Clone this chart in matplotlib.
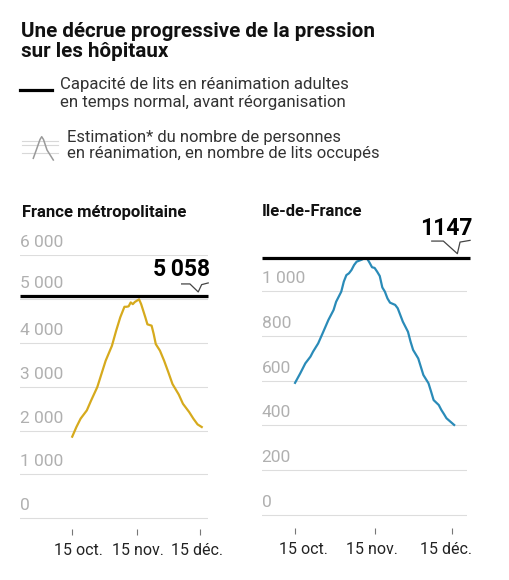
import numpy as np
import matplotlib
matplotlib.use("Agg")
import matplotlib.pyplot as plt
import matplotlib.dates as mdates
from matplotlib.lines import Line2D
from matplotlib.transforms import Affine2D

plt.rcParams['font.family'] = ['Roboto', 'DejaVu Sans']

# --- data ---
france_dates = ["2020-10-15", "2020-10-17", "2020-10-19", "2020-10-22", "2020-10-24",
                "2020-10-27", "2020-10-29", "2020-10-31", "2020-11-03", "2020-11-05",
                "2020-11-07", "2020-11-09", "2020-11-10", "2020-11-11", "2020-11-12",
                "2020-11-13", "2020-11-14", "2020-11-16", "2020-11-17", "2020-11-18",
                "2020-11-19", "2020-11-20", "2020-11-22", "2020-11-23", "2020-11-24",
                "2020-11-26", "2020-11-28", "2020-11-30", "2020-12-02", "2020-12-05",
                "2020-12-07", "2020-12-10", "2020-12-12", "2020-12-14", "2020-12-16"]
france_values = [1860, 2080, 2270, 2460, 2680, 2990, 3290, 3590, 3930, 4270,
                 4580, 4820, 4820, 4830, 4920, 4880, 4930, 4990, 4880, 4730,
                 4580, 4420, 4390, 4200, 3970, 3820, 3590, 3330, 3060, 2820,
                 2610, 2420, 2270, 2140, 2080]

idf_dates = ["2020-10-15", "2020-10-17", "2020-10-19", "2020-10-21", "2020-10-22",
             "2020-10-24", "2020-10-26", "2020-10-28", "2020-10-30", "2020-10-31",
             "2020-11-02", "2020-11-03", "2020-11-04", "2020-11-05", "2020-11-06",
             "2020-11-07", "2020-11-08", "2020-11-10", "2020-11-11", "2020-11-12",
             "2020-11-13", "2020-11-14", "2020-11-15", "2020-11-16", "2020-11-17",
             "2020-11-18", "2020-11-19", "2020-11-20", "2020-11-21", "2020-11-23",
             "2020-11-24", "2020-11-25", "2020-11-26", "2020-11-28", "2020-11-29",
             "2020-11-30", "2020-12-02", "2020-12-03", "2020-12-04", "2020-12-06",
             "2020-12-07", "2020-12-08", "2020-12-10", "2020-12-11", "2020-12-12",
             "2020-12-13", "2020-12-15", "2020-12-16"]
idf_values = [590, 632, 677, 707, 729, 766, 818, 871, 915, 952,
              997, 1042, 1071, 1079, 1094, 1116, 1131, 1140, 1146, 1146,
              1127, 1106, 1103, 1086, 1067, 1016, 997, 967, 948, 938,
              923, 893, 863, 818, 774, 737, 699, 662, 625, 588,
              551, 513, 491, 469, 451, 432, 412, 402]

france_capacity = 5058
idf_capacity = 1147
france_capacity_label = "5\u2009058"
idf_capacity_label = "1147"

france_yticks = [0, 1000, 2000, 3000, 4000, 5000, 6000]
france_ylabels = ["0", "1 000", "2 000", "3 000", "4 000", "5 000", "6 000"]
idf_yticks = [0, 200, 400, 600, 800, 1000]
idf_ylabels = ["0", "200", "400", "600", "800", "1 000"]

xtick_dates = ["2020-10-15", "2020-11-15", "2020-12-15"]
xtick_labels = ["15 oct.", "15 nov.", "15 déc."]

W, H = 510, 580
fig = plt.figure(figsize=(W / 100, H / 100), dpi=100)


def fx(px):
    return px / W


def fy(py):
    return 1 - py / H


def to_num(ds):
    return mdates.date2num(np.array(ds, dtype="datetime64[D]"))


def panel(rect, dates, values, color, cap, cap_label, yticks, ylabels, ylim,
          xlim, tip_x, pointer_shape, cap_xmax, label_shift, num_dy):
    ax = fig.add_axes(rect)
    ax.set_xlim(to_num(xlim))
    ax.set_ylim(ylim)
    for s in ax.spines.values():
        s.set_visible(False)
    ax.set_yticks([])
    step = yticks[1] - yticks[0]
    for v, lab in zip(yticks, ylabels):
        ax.axhline(v, color="#dddddd", lw=0.8, zorder=1)
        yv = v
        if 0 <= cap - v < step / 2:
            yv = cap  # label moved above the capacity line
        ax.annotate(lab, (0, yv), xycoords=ax.get_yaxis_transform(),
                    xytext=(0, 5), textcoords="offset pixels",
                    ha="left", va="bottom", fontsize=12.5, color="#b0b0b0")
    ax.plot(to_num(dates), values, color=color, lw=1.6, zorder=3,
            solid_joinstyle="round")
    ax.plot([0, cap_xmax], [cap, cap], transform=ax.get_yaxis_transform(),
            color="black", lw=2.3, zorder=4, clip_on=False, solid_capstyle="butt")
    # small callout pointing to the capacity line, shape given in pixels
    w_px = rect[2] * W
    h_px = rect[3] * H
    per_px = (ylim[1] - ylim[0]) / h_px
    px_, py_ = pointer_shape
    cx = [tip_x + v / w_px for v in px_]
    cy = [cap + (4.4 + v) * per_px for v in py_]
    ax.plot(cx, cy, transform=ax.get_yaxis_transform(), color="#444444",
            lw=0.9, clip_on=False, zorder=5)
    ax.annotate(cap_label, (cap_xmax, cap), xycoords=ax.get_yaxis_transform(),
                xytext=(2, num_dy), textcoords="offset pixels", ha="right",
                va="baseline", fontsize=16.5, fontweight="bold", color="black")
    ax.set_xticks(to_num(xtick_dates))
    ax.set_xticklabels(xtick_labels, fontsize=11.5, color="#222222")
    ax.tick_params(axis="x", length=4.3, width=0.8, color="#777777", pad=6)
    for lab, dx in zip(ax.get_xticklabels(), label_shift):
        lab.set_transform(lab.get_transform() + Affine2D().translate(dx, 0))
    return ax


# France métropolitaine
panel([fx(20), fy(529), fx(188), (529 - 255) / H],
      france_dates, france_values, "#d6aa1d", france_capacity, france_capacity_label,
      france_yticks, france_ylabels, (-244, 6000), ["2020-09-20", "2020-12-19"],
      0.948, ([-16.6, -8.3, 0, 3.4, 10], [8, 8, 0, 7.3, 9]), 1.0, [6, 1, -3], 20)

# Ile-de-France
panel([fx(261.7), fy(528), fx(205.3), (528 - 246.2) / H],
      idf_dates, idf_values, "#2a8bb8", idf_capacity, idf_capacity_label,
      idf_yticks, idf_ylabels, (-58, 1200), ["2020-10-02", "2020-12-21"],
      0.953, ([-25.6, -14, 0, 2.7, 12.7], [12.6, 12.6, 0, 11.6, 13.3]), 1.015, [8, -3, -6], 23)

# titles
fig.text(fx(21), fy(22), "Une décrue progressive de la pression\nsur les hôpitaux",
         ha="left", va="top", fontsize=14.9, fontweight="bold", color="#111111",
         linespacing=1.05)
fig.text(fx(21.7), fy(212.7), "France métropolitaine", ha="left", va="center",
         fontsize=12, fontweight="bold", color="#111111")
fig.text(fx(261.7), fy(211.7), "Ile-de-France", ha="left", va="center",
         fontsize=12, fontweight="bold", color="#111111")

# legend
fig.add_artist(Line2D([fx(20), fx(51.7)], [fy(90), fy(90)], color="black", lw=2.3))
fig.text(fx(60), fy(93.3), "Capacité de lits en réanimation adultes\nen temps normal, avant réorganisation",
         ha="left", va="center", fontsize=12.1, color="#333333", linespacing=1.2)
for gy in [140.7, 145, 153.3]:
    fig.add_artist(Line2D([fx(21.7), fx(58.3)], [fy(gy), fy(gy)], color="#d8d8d8", lw=0.8))
icon_x = [33.3, 37, 40, 41.7, 43.5, 47, 53.3]
icon_y = [158.3, 148, 139.5, 136.7, 139.5, 150, 160]
fig.add_artist(Line2D([fx(v) for v in icon_x], [fy(v) for v in icon_y], color="#999999", lw=1.1))
fig.text(fx(66.7), fy(145.8), "Estimation* du nombre de personnes\nen réanimation, en nombre de lits occupés",
         ha="left", va="center", fontsize=12.0, color="#333333", linespacing=1.1)

fig.savefig("out.png", dpi=100)
